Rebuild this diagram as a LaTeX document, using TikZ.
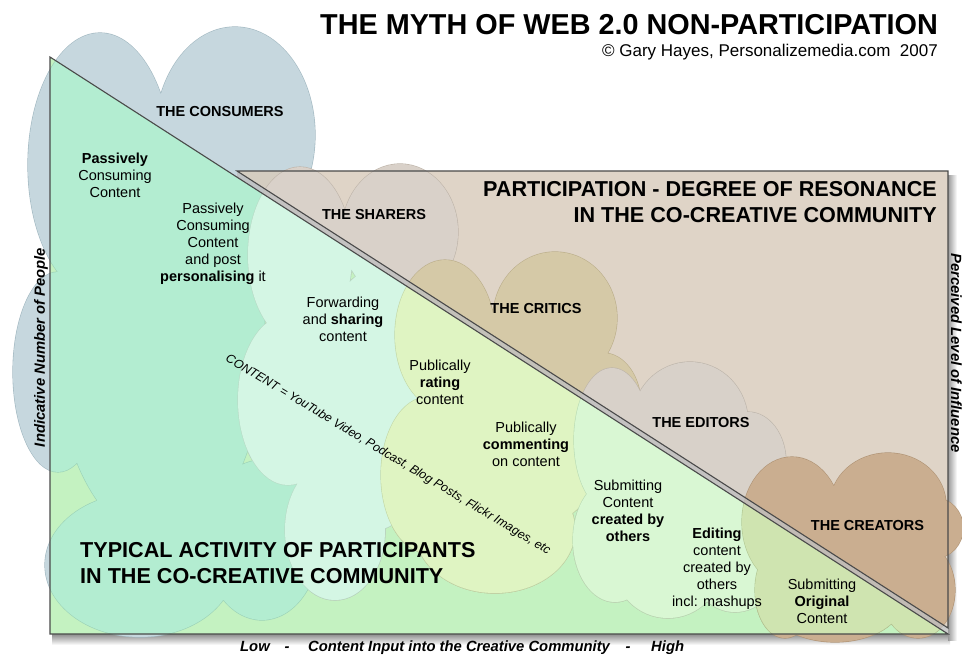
\documentclass[tikz,border=0pt]{standalone}
\usepackage{fontspec}
\setmainfont{Liberation Sans}
\definecolor{consOut}{HTML}{C6D7DE}
\definecolor{consOutB}{HTML}{A3B9C2}
\definecolor{consIn}{HTML}{B3EDD1}
\definecolor{consInB}{HTML}{9CD2B8}
\definecolor{brownbg}{HTML}{D8CBBB}
\definecolor{greenbg}{HTML}{C4F2C1}
\definecolor{shUp}{HTML}{D9D1C9}
\definecolor{shUpB}{HTML}{BFB5AA}
\definecolor{shIn}{HTML}{D4F6E4}
\definecolor{shInB}{HTML}{B8DCC7}
\definecolor{crUp}{HTML}{D5C9A7}
\definecolor{crUpB}{HTML}{BCAF8C}
\definecolor{crIn}{HTML}{DFF4C2}
\definecolor{crInB}{HTML}{C3D8A8}
\definecolor{edUp}{HTML}{D8D1C9}
\definecolor{edUpB}{HTML}{BDB5AB}
\definecolor{edIn}{HTML}{D9F7D3}
\definecolor{edInB}{HTML}{BBDCB5}
\definecolor{cwUp}{HTML}{CAAE90}
\definecolor{cwUpB}{HTML}{B09476}
\definecolor{cwIn}{HTML}{CFE4B0}
\definecolor{cwInB}{HTML}{B3C995}
\definecolor{edgeline}{HTML}{4A4A4A}
\def\CCons{(100,165) ellipse [x radius=72, y radius=132] (235,135) ellipse [x radius=80, y radius=108] (58,372) ellipse [x radius=45, y radius=100] (160,340) ellipse [x radius=105, y radius=200] (140,565) ellipse [x radius=95, y radius=72] (262,540) ellipse [x radius=58, y radius=80]}
\def\CShare{(300,255) ellipse [x radius=52, y radius=88] (400,232) ellipse [x radius=58, y radius=68] (288,400) ellipse [x radius=50, y radius=85] (335,530) ellipse [x radius=50, y radius=70] (375,400) ellipse [x radius=60, y radius=130]}
\def\CCrit{(445,335) ellipse [x radius=50, y radius=75] (555,318) ellipse [x radius=62, y radius=66] (603,405) ellipse [x radius=38, y radius=52] (428,475) ellipse [x radius=47, y radius=78] (495,530) ellipse [x radius=80, y radius=63] (525,430) ellipse [x radius=85, y radius=100]}
\def\CEdit{(612,440) ellipse [x radius=38, y radius=72] (690,422) ellipse [x radius=58, y radius=60] (748,462) ellipse [x radius=38, y radius=50] (615,540) ellipse [x radius=42, y radius=62] (668,562) ellipse [x radius=55, y radius=56] (735,562) ellipse [x radius=45, y radius=50] (680,500) ellipse [x radius=85, y radius=80]}
\def\CCrea{(792,522) ellipse [x radius=50, y radius=65] (888,505) ellipse [x radius=58, y radius=52] (935,528) ellipse [x radius=28, y radius=30] (918,590) ellipse [x radius=37, y radius=48] (835,600) ellipse [x radius=68, y radius=42] (785,590) ellipse [x radius=30, y radius=48] (865,560) ellipse [x radius=75, y radius=65]}
\def\Tri{(50,57) -- (50,634) -- (948,634) -- cycle}
\def\Brn{(237,171) -- (948,171) -- (948,628) -- cycle}
\newcommand\drawcloud[3]{\draw[line width=1.2pt, draw=#2] #1; \fill[#3] #1;}
\begin{document}
\begin{tikzpicture}[x=1pt,y=-1pt,
  lbl/.style={font=\bfseries\fontsize{14.5}{17}\selectfont, inner sep=0pt, anchor=base},
  act/.style={font=\fontsize{14.5}{17}\selectfont, align=center, inner sep=0pt, anchor=north},
  hdr/.style={font=\bfseries\fontsize{21.6}{26}\selectfont, inner sep=0pt},
  axislbl/.style={font=\bfseries\itshape\fontsize{14.8}{17}\selectfont, inner sep=0pt},
]
\useasboundingbox (0,0) rectangle (962,655);
% shadows
\shade[top color=black!45, bottom color=white] (52,634) rectangle (950,645);
\shade[left color=black!40, right color=white] (948,176) rectangle (957,640);
% consumers cloud (outside part)
\drawcloud{\CCons}{consOutB}{consOut}
% regions
\fill[brownbg, fill opacity=0.82] \Brn;
\fill[greenbg] \Tri;
% clouds, upper colours
\drawcloud{\CShare}{shUpB}{shUp}
\drawcloud{\CCrit}{crUpB}{crUp}
\drawcloud{\CEdit}{edUpB}{edUp}
\drawcloud{\CCrea}{cwUpB}{cwUp}
% clouds inside the triangle
\begin{scope}
  \clip \Tri;
  \drawcloud{\CCons}{consInB}{consIn}
  \drawcloud{\CShare}{shInB}{shIn}
  \drawcloud{\CCrit}{crInB}{crIn}
  \drawcloud{\CEdit}{edInB}{edIn}
  \drawcloud{\CCrea}{cwInB}{cwIn}
\end{scope}
% edges
\fill[black!25, fill opacity=0.8] (237,171) -- (948,628) -- (948,634) -- (237,177) -- cycle;
\draw[edgeline, line width=1.1pt] (237,171) -- (948,171) -- (948,628) -- cycle;
\draw[edgeline, line width=1.1pt] \Tri;
% title
\node[font=\bfseries\fontsize{28.8}{32}\selectfont, inner sep=0pt, anchor=base east] (title) at (938,35) {THE MYTH OF WEB 2.0 NON-PARTICIPATION};
\node[font=\fontsize{17}{20}\selectfont, inner sep=0pt, anchor=base east] (copy) at (938,57) {© Gary Hayes, Personalizemedia.com~ 2007};
% headers
\node[hdr, anchor=base east] (hp1) at (937,197) {PARTICIPATION - DEGREE OF RESONANCE};
\node[hdr, anchor=base east] (hp2) at (937,223) {IN THE CO-CREATIVE COMMUNITY};
\node[hdr, anchor=base west] (ht1) at (80,557) {TYPICAL ACTIVITY OF PARTICIPANTS};
\node[hdr, anchor=base west] (ht2) at (80,583) {IN THE CO-CREATIVE COMMUNITY};
% cloud labels
\node[lbl] (lcons) at (220,117) {THE CONSUMERS};
\node[lbl] (lshar) at (374,220) {THE SHARERS};
\node[lbl] (lcrit) at (536,313) {THE CRITICS};
\node[lbl] (ledit) at (701,427) {THE EDITORS};
\node[lbl] (lcrea) at (867.5,530) {THE CREATORS};
% activities
\node[act] (a1) at (115,152.6) {\textbf{Passively}\\Consuming\\Content};
\node[act] (a2) at (213,202.6) {Passively\\Consuming\\Content\\and post\\\textbf{personalising} it};
\node[act] (a3) at (343,296.6) {Forwarding\\and \textbf{sharing}\\content};
\node[act] (a4) at (440,359.6) {Publically\\\textbf{rating}\\content};
\node[act] (a5) at (526,421.6) {Publically\\\textbf{commenting}\\on content};
\node[act] (a6) at (628,479.6) {Submitting\\Content\\\textbf{created by}\\\textbf{others}};
\node[act] (a7) at (717,527.6) {\textbf{Editing}\\content\\created by\\others\\incl: mashups};
\node[act] (a8) at (822,578.6) {Submitting\\\textbf{Original}\\Content};
% diagonal note
\node[font=\itshape\fontsize{12.3}{14}\selectfont, inner sep=0pt, rotate=-31] (ctext) at (388,455) {CONTENT = YouTube Video, Podcast, Blog Posts, Flickr Images, etc};
% axes
\node[axislbl, rotate=90] (yl) at (41,347.5) {Indicative Number of People};
\node[axislbl, rotate=-90] (yr) at (956.5,353) {Perceived Level of Influence};
\node[axislbl, anchor=base west] (lo) at (240,651) {Low};
\node[axislbl, anchor=base] (d1) at (287,651) {-};
\node[axislbl, anchor=base west] (xl) at (308,651) {Content Input into the Creative Community};
\node[axislbl, anchor=base] (d2) at (628,651) {-};
\node[axislbl, anchor=base west] (hi) at (651,651) {High};
\end{tikzpicture}
\end{document}
